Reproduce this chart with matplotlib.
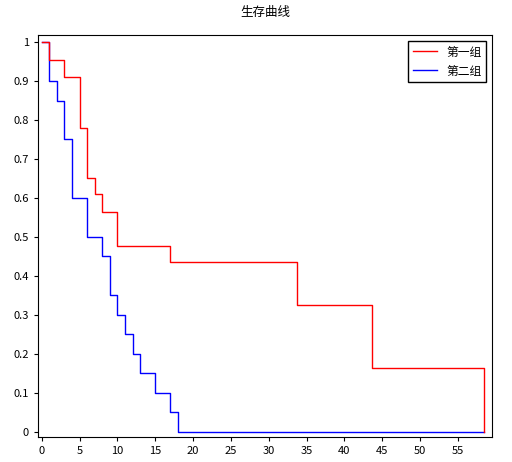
import matplotlib
matplotlib.use("Agg")
import matplotlib.pyplot as plt

plt.rcParams['font.family'] = ['Noto Sans CJK SC', 'DejaVu Sans']

g1_t = [0, 1, 3, 5, 6, 7, 8, 10, 17, 33.7, 43.6, 58.5]
g1_s = [1, 0.955, 0.91, 0.78, 0.652, 0.609, 0.565, 0.478, 0.435, 0.326, 0.163, 0]
g2_t = [0, 1, 2, 3, 4, 6, 8, 9, 10, 11, 12, 13, 15, 17, 18, 58.5]
g2_s = [1, 0.9, 0.85, 0.75, 0.6, 0.5, 0.45, 0.35, 0.3, 0.25, 0.2, 0.15, 0.1, 0.05, 0, 0]

fig = plt.figure(figsize=(5.12, 4.62), dpi=100)
ax = fig.add_axes([38/512, 1-437/462, 454/512, 402/462])
ax.step(g2_t, g2_s, where='post', color='#0000ff', lw=1, label='第二组')
ax.step(g1_t, g1_s, where='post', color='#ff0000', lw=1, label='第一组')
ax.set_xlim(-0.5, 59.5)
ax.set_ylim(-0.013, 1.018)
ax.set_xticks(range(0, 60, 5))
ax.set_yticks([i/10 for i in range(11)])
ax.set_yticklabels(['0'] + [f'0.{i}' for i in range(1, 10)] + ['1'])
ax.tick_params(labelsize=8, length=3)
ax.set_title('生存曲线', fontsize=9, pad=14)
h, l = ax.get_legend_handles_labels()
ax.legend(h[::-1], l[::-1], loc='upper right', fontsize=8.5, fancybox=False,
          edgecolor='black', framealpha=1, handlelength=2)
fig.savefig('out.png', dpi=100)
